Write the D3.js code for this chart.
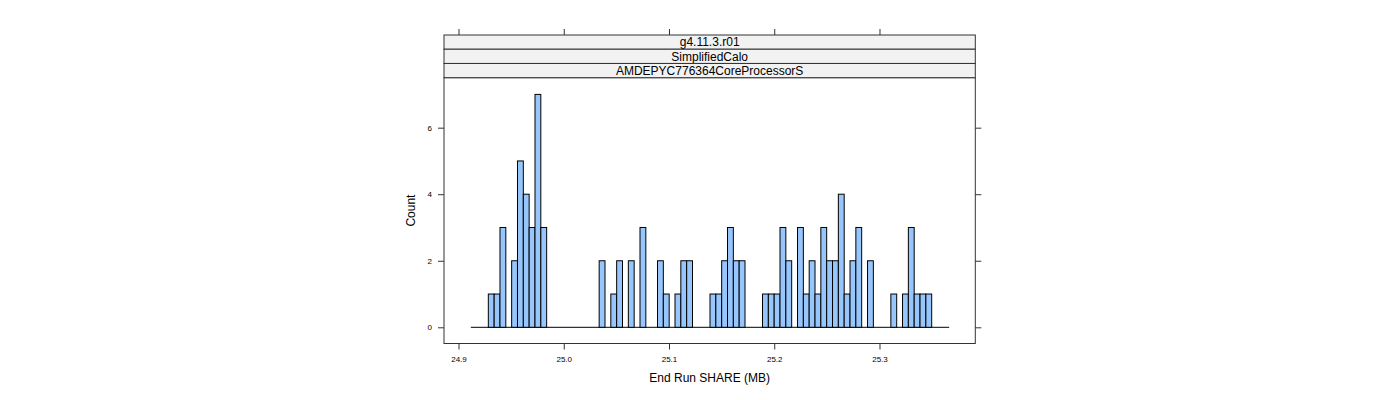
<!DOCTYPE html>
<html>
<head>
<meta charset="utf-8">
<script src="https://cdn.jsdelivr.net/npm/d3@7"></script>
<style>
  html, body { margin: 0; padding: 0; background: #fff; }
  svg { display: block; font-family: "Liberation Sans", Arial, sans-serif; }
</style>
</head>
<body>
<svg id="chart" width="1400" height="400"></svg>
<script>
// ---- data ----
const stripLabels = ["g4.11.3.r01", "SimplifiedCalo", "AMDEPYC776364CoreProcessorS"];
const binStart = 24.9117;   // first histogram break
const binWidth = 0.005543;  // width of each bin
const counts = [0,0,0,1,1,3,0,2,5,4,3,7,3,0,0,0,0,0,0,0,0,0,2,0,1,2,0,2,0,3,0,0,2,1,0,1,2,2,0,0,0,1,1,2,3,2,2,0,0,0,1,1,1,3,2,0,3,1,2,1,3,2,2,4,1,2,3,0,2,0,0,0,1,0,1,3,1,1,1,0,0,0];
const xTicks = [24.9, 25.0, 25.1, 25.2, 25.3];
const xTickLabels = ["24.9", "25.0", "25.1", "25.2", "25.3"];
const yTicks = [0, 2, 4, 6];
const xTitle = "End Run SHARE (MB)";
const yTitle = "Count";

// ---- layout ----
const panel = { left: 444, right: 975.3, top: 77.7, bottom: 343.5 };
const stripTop = 35, stripH = (panel.top - stripTop) / 3;
const lineCol = "#333";

const svg = d3.select("#chart");
const x = d3.scaleLinear().domain([24.88622, 25.39103]).range([panel.left, panel.right]);
const y = d3.scaleLinear().domain([-0.487, 7.502]).range([panel.bottom, panel.top]);

const bins = counts.map((c, i) => ({ x0: binStart + i * binWidth, x1: binStart + (i + 1) * binWidth, c }));

// baseline (zero-count bins)
svg.append("line")
  .attr("x1", x(bins[0].x0)).attr("x2", x(bins[bins.length - 1].x1))
  .attr("y1", y(0)).attr("y2", y(0))
  .attr("stroke", "#000").attr("stroke-width", 1);

// bars
svg.append("g").selectAll("rect")
  .data(bins.filter(d => d.c > 0))
  .join("rect")
  .attr("x", d => x(d.x0))
  .attr("width", d => x(d.x1) - x(d.x0))
  .attr("y", d => y(d.c))
  .attr("height", d => y(0) - y(d.c))
  .attr("fill", "#96c6fb")
  .attr("stroke", "#000")
  .attr("stroke-width", 1);

// panel border
svg.append("rect")
  .attr("x", panel.left).attr("y", panel.top)
  .attr("width", panel.right - panel.left).attr("height", panel.bottom - panel.top)
  .attr("fill", "none").attr("stroke", lineCol).attr("stroke-width", 1);

// strips
stripLabels.forEach((lab, i) => {
  const y0 = stripTop + i * stripH;
  svg.append("rect")
    .attr("x", panel.left).attr("y", y0)
    .attr("width", panel.right - panel.left).attr("height", stripH)
    .attr("fill", "#f2f2f2").attr("stroke", lineCol).attr("stroke-width", 1);
  svg.append("text")
    .attr("x", (panel.left + panel.right) / 2).attr("y", y0 + stripH / 2 + 4.3)
    .attr("text-anchor", "middle").attr("font-size", 12).attr("fill", "#000")
    .text(lab);
});

// bottom axis
const xAxisB = d3.axisBottom(x).tickValues(xTicks).tickFormat((d, i) => xTickLabels[i])
  .tickSizeInner(6).tickSizeOuter(0).tickPadding(7);
const gxb = svg.append("g").attr("transform", `translate(0,${panel.bottom})`).call(xAxisB);
gxb.select(".domain").remove();
gxb.selectAll("line").attr("stroke", lineCol);
gxb.selectAll("text").attr("font-size", 8).attr("font-family", "Liberation Sans, Arial, sans-serif").attr("fill", "#000");

// top axis ticks (no labels)
const xAxisT = d3.axisTop(x).tickValues(xTicks).tickFormat("").tickSizeInner(6).tickSizeOuter(0);
const gxt = svg.append("g").attr("transform", `translate(0,${stripTop})`).call(xAxisT);
gxt.select(".domain").remove();
gxt.selectAll("line").attr("stroke", lineCol);

// left axis
const yAxisL = d3.axisLeft(y).tickValues(yTicks).tickFormat(d3.format("d"))
  .tickSizeInner(6).tickSizeOuter(0).tickPadding(6);
const gyl = svg.append("g").attr("transform", `translate(${panel.left},0)`).call(yAxisL);
gyl.select(".domain").remove();
gyl.selectAll("line").attr("stroke", lineCol);
gyl.selectAll("text").attr("font-size", 8).attr("font-family", "Liberation Sans, Arial, sans-serif").attr("fill", "#000");

// right axis ticks
const yAxisR = d3.axisRight(y).tickValues(yTicks).tickFormat("").tickSizeInner(6).tickSizeOuter(0);
const gyr = svg.append("g").attr("transform", `translate(${panel.right},0)`).call(yAxisR);
gyr.select(".domain").remove();
gyr.selectAll("line").attr("stroke", lineCol);

// axis titles
svg.append("text")
  .attr("x", (panel.left + panel.right) / 2).attr("y", 382)
  .attr("text-anchor", "middle").attr("font-size", 12).attr("fill", "#000")
  .text(xTitle);
svg.append("text")
  .attr("transform", `translate(415,${(panel.top + panel.bottom) / 2}) rotate(-90)`)
  .attr("text-anchor", "middle").attr("font-size", 12).attr("fill", "#000")
  .text(yTitle);
</script>
</body>
</html>
